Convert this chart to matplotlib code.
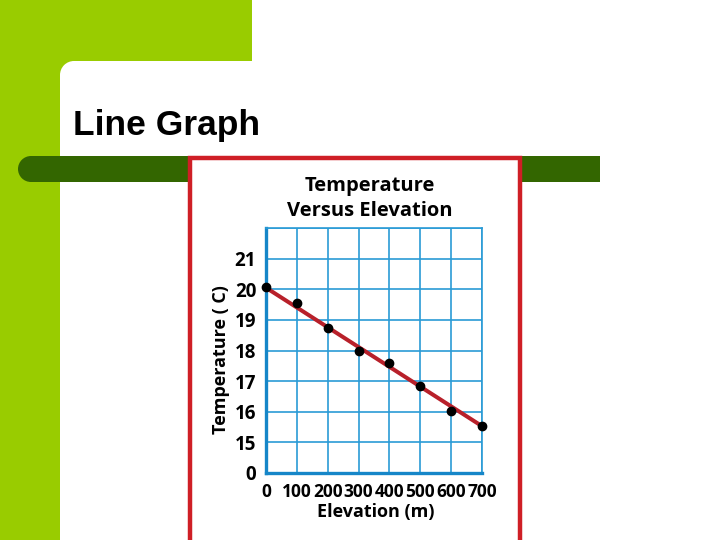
"""Slide with a line graph: temperature versus elevation."""

import matplotlib

matplotlib.use("Agg")
import matplotlib.pyplot as plt  # noqa: E402
import numpy as np  # noqa: E402
from matplotlib.patches import Circle, Rectangle  # noqa: E402

elevation = [0, 100, 200, 300, 400, 500, 600, 700]
temperature = [20.08, 19.55, 18.72, 18.0, 17.58, 16.85, 16.02, 15.55]
trend_x = [0, 700]
trend_y = [20.05, 15.53]
y_ticks = [0, 15, 16, 17, 18, 19, 20, 21]
x_ticks = [0, 100, 200, 300, 400, 500, 600, 700]

LIME = "#99CC00"
DARK_GREEN = "#336600"
FRAME_RED = "#CF1F26"
GRID_BLUE = "#2A9BD6"
LINE_RED = "#B8202A"

W, H = 720, 540
fig = plt.figure(figsize=(W / 100, H / 100), dpi=100)

# background axes in pixel units (y down)
bg = fig.add_axes([0, 0, 1, 1])
bg.set_xlim(0, W)
bg.set_ylim(H, 0)
bg.axis("off")
bg.add_patch(Rectangle((0, 0), 252, 61, color=LIME, lw=0))
bg.add_patch(Rectangle((0, 0), 60, H, color=LIME, lw=0))
# rounded inner corner of the white content area
bg.add_patch(Rectangle((59, 60), 15, 15, color=LIME, lw=0))
bg.add_patch(Circle((74, 75), 14, color="white", lw=0))
bg.add_patch(Rectangle((31, 156), 569, 26, color=DARK_GREEN, lw=0))
bg.add_patch(Circle((31, 169), 13, color=DARK_GREEN, lw=0))
# chart picture: white card with red frame
bg.add_patch(Rectangle((190, 158), 330, 420, fc="white", ec=FRAME_RED, lw=3.2))
bg.text(73, 135, "Line Graph", fontsize=25.5, fontweight="bold",
        family="Liberation Sans", va="baseline", ha="left")

# chart
L, R, T, B = 266, 482, 228, 473
ax = fig.add_axes([L / W, 1 - B / H, (R - L) / W, (B - T) / H])


def fwd(t):
    t = np.asarray(t, dtype=float)
    return np.where(t < 15, t / 15, t - 14)


def inv(p):
    p = np.asarray(p, dtype=float)
    return np.where(p < 1, p * 15, p + 14)


# broken y axis: 0, then 15..22 in equal steps
ax.set_yscale("function", functions=(fwd, inv))
ax.set_xlim(0, 700)
ax.set_ylim(0, 22)
ax.set_xticks(x_ticks)
ax.set_yticks(y_ticks + [22])
ax.set_yticklabels([str(v) for v in y_ticks] + [""])
ax.grid(True, color=GRID_BLUE, lw=1.2)
ax.set_axisbelow(True)
for side in ("top", "right"):
    ax.spines[side].set_color(GRID_BLUE)
    ax.spines[side].set_linewidth(1.2)
for side in ("left", "bottom"):
    ax.spines[side].set_color("#1686C8")
    ax.spines[side].set_linewidth(2.4)
ax.tick_params(length=0, pad=7)
ax.tick_params(axis="y", labelsize=13.5)
ax.tick_params(axis="x", labelsize=12.5)
for lab in ax.get_xticklabels() + ax.get_yticklabels():
    lab.set_fontweight("bold")
    lab.set_family("Open Sans")

ax.plot(trend_x, trend_y, color=LINE_RED, lw=2.9, solid_capstyle="butt", zorder=3)
ax.plot(elevation, temperature, "o", color="black", ms=6, zorder=4, clip_on=False)

fig.text(370 / W, 1 - 186 / H, "Temperature", ha="center", va="center",
         fontsize=14.5, fontweight="bold", family="Open Sans")
fig.text(370 / W, 1 - 211 / H, "Versus Elevation", ha="center", va="center",
         fontsize=14.5, fontweight="bold", family="Open Sans")
fig.text(221 / W, 1 - 360 / H, "Temperature ( C)", ha="center", va="center",
         rotation=90, fontsize=13, fontweight="bold", family="Open Sans")
fig.text(376 / W, 1 - 512 / H, "Elevation (m)", ha="center", va="center",
         fontsize=13, fontweight="bold", family="Open Sans")

fig.savefig("out.png", dpi=100)
